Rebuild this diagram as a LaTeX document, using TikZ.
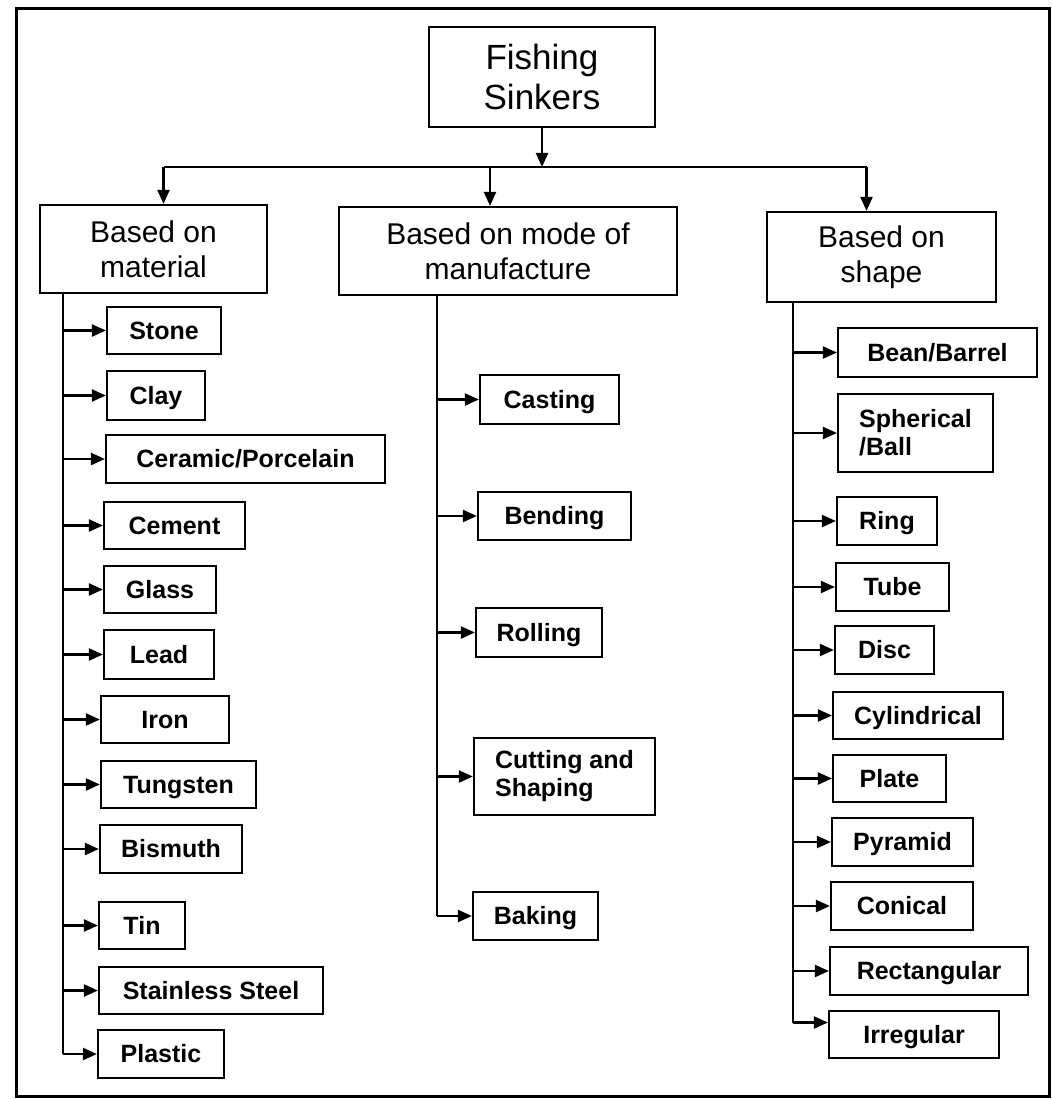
\documentclass[tikz,border=0pt]{standalone}
\usepackage{fontspec}
\setmainfont{Liberation Sans}
\usetikzlibrary{arrows.meta}
\begin{document}
\begin{tikzpicture}[x=1pt,y=-1pt,
  cbox/.style={draw,line width=2.2pt,inner sep=0pt,font=\fontsize{25}{28}\selectfont\bfseries},
  lbox/.style={cbox,text height=20pt,text depth=3pt},
  hbox/.style={draw,line width=2.2pt,inner sep=0pt,align=center,font=\fontsize{30}{35}\selectfont},
  tbox/.style={draw,line width=2.2pt,inner sep=0pt,align=center,font=\fontsize{35}{40}\selectfont},
  conn/.style={line width=2.2pt},
  arr/.style={line width=2.2pt,-{Triangle[length=14pt,width=12pt]}}]
\useasboundingbox (0,0) rectangle (1051,1099);
\draw[line width=3pt] (16,9) rectangle (1049,1096);
% title and headings
\node[tbox,minimum width=226,minimum height=100] (title) at (542,77) {Fishing\\Sinkers};
\node[hbox,minimum width=227,minimum height=88] (material) at (153.5,249) {Based on\\material};
\node[hbox,minimum width=338,minimum height=88] (mode) at (508,251) {Based on mode of\\manufacture};
\node[hbox,minimum width=229,minimum height=90] (shape) at (881.5,257) {Based on\\shape};
% material children
\node[lbox,minimum width=114,minimum height=47] (stone) at (164,330.5) {Stone};
\node[lbox,minimum width=98,minimum height=49] (clay) at (156,395.5) {Clay};
\node[lbox,minimum width=279,minimum height=48] (ceramic) at (245.5,459) {Ceramic/Porcelain};
\node[lbox,minimum width=141,minimum height=47] (cement) at (174.5,525.5) {Cement};
\node[lbox,minimum width=112,minimum height=47] (glass) at (160,589.5) {Glass};
\node[lbox,minimum width=110,minimum height=49] (lead) at (159,654.5) {Lead};
\node[lbox,minimum width=128,minimum height=47] (iron) at (165,719.5) {Iron};
\node[lbox,minimum width=155,minimum height=47] (tungsten) at (178.5,784.5) {Tungsten};
\node[lbox,minimum width=142,minimum height=48] (bismuth) at (171,849) {Bismuth};
\node[lbox,minimum width=86,minimum height=47] (tin) at (142,925.5) {Tin};
\node[lbox,minimum width=224,minimum height=47] (stainless) at (211,990.5) {Stainless Steel};
\node[lbox,minimum width=126,minimum height=48] (plastic) at (161,1054) {Plastic};
% mode children
\node[lbox,minimum width=139,minimum height=49] (casting) at (549.5,399.5) {Casting};
\node[lbox,minimum width=153,minimum height=48] (bending) at (554.5,516) {Bending};
\node[lbox,minimum width=126,minimum height=49] (rolling) at (539,632.5) {Rolling};
\node[cbox,minimum width=181,minimum height=77,align=left] (cutting) at (564.5,776.5) {Cutting and\\Shaping};
\node[lbox,minimum width=125,minimum height=48] (baking) at (535.5,916) {Baking};
% shape children
\node[lbox,minimum width=199,minimum height=49] (bean) at (937.5,352.5) {Bean/Barrel};
\node[cbox,minimum width=155,minimum height=78,align=left] (spherical) at (915.5,433) {Spherical\\/Ball};
\node[lbox,minimum width=100,minimum height=48] (ring) at (887,521) {Ring};
\node[lbox,minimum width=113,minimum height=48] (tube) at (892.5,587) {Tube};
\node[lbox,minimum width=99,minimum height=48] (disc) at (884.5,650) {Disc};
\node[lbox,minimum width=170,minimum height=47] (cylindrical) at (918,715.5) {Cylindrical};
\node[lbox,minimum width=113,minimum height=47] (plate) at (889.5,778.5) {Plate};
\node[lbox,minimum width=141,minimum height=48] (pyramid) at (902.5,842) {Pyramid};
\node[lbox,minimum width=142,minimum height=48] (conical) at (902,906) {Conical};
\node[lbox,minimum width=198,minimum height=48] (rectangular) at (929,971) {Rectangular};
\node[lbox,minimum width=170,minimum height=47] (irregular) at (914,1034.5) {Irregular};
% top connectors
\coordinate (j) at (title.south |- 0,167);
\draw[arr] (title.south) -- (j);
\draw[conn] ([xshift=10]material.north |- j) -- ([xshift=-15]shape.north |- j);
\draw[arr] ([xshift=10]material.north |- j) -- ([xshift=10]material.north);
\draw[arr] ([xshift=-18]mode.north |- j) -- ([xshift=-18]mode.north);
\draw[arr] ([xshift=-15]shape.north |- j) -- ([xshift=-15]shape.north);
% material trunk
\coordinate (mt) at (63,293);
\draw[conn] (mt) -- (mt |- plastic.west);
\foreach \c in {stone,clay,ceramic,cement,glass,lead,iron,tungsten,bismuth,tin,stainless,plastic}
  \draw[arr] (mt |- \c.west) -- (\c.west);
% mode trunk
\coordinate (dt) at (437,295);
\draw[conn] (dt) -- (dt |- baking.west);
\foreach \c in {casting,bending,rolling,cutting,baking}
  \draw[arr] (dt |- \c.west) -- (\c.west);
% shape trunk
\coordinate (st) at (793,302);
\coordinate (irr) at ([yshift=12]irregular.west);
\draw[conn] (st) -- (st |- irr);
\foreach \c in {bean,spherical,ring,tube,disc,cylindrical,plate,pyramid,conical,rectangular}
  \draw[arr] (st |- \c.west) -- (\c.west);
\draw[arr] (st |- irr) -- (irr);
\end{tikzpicture}
\end{document}
